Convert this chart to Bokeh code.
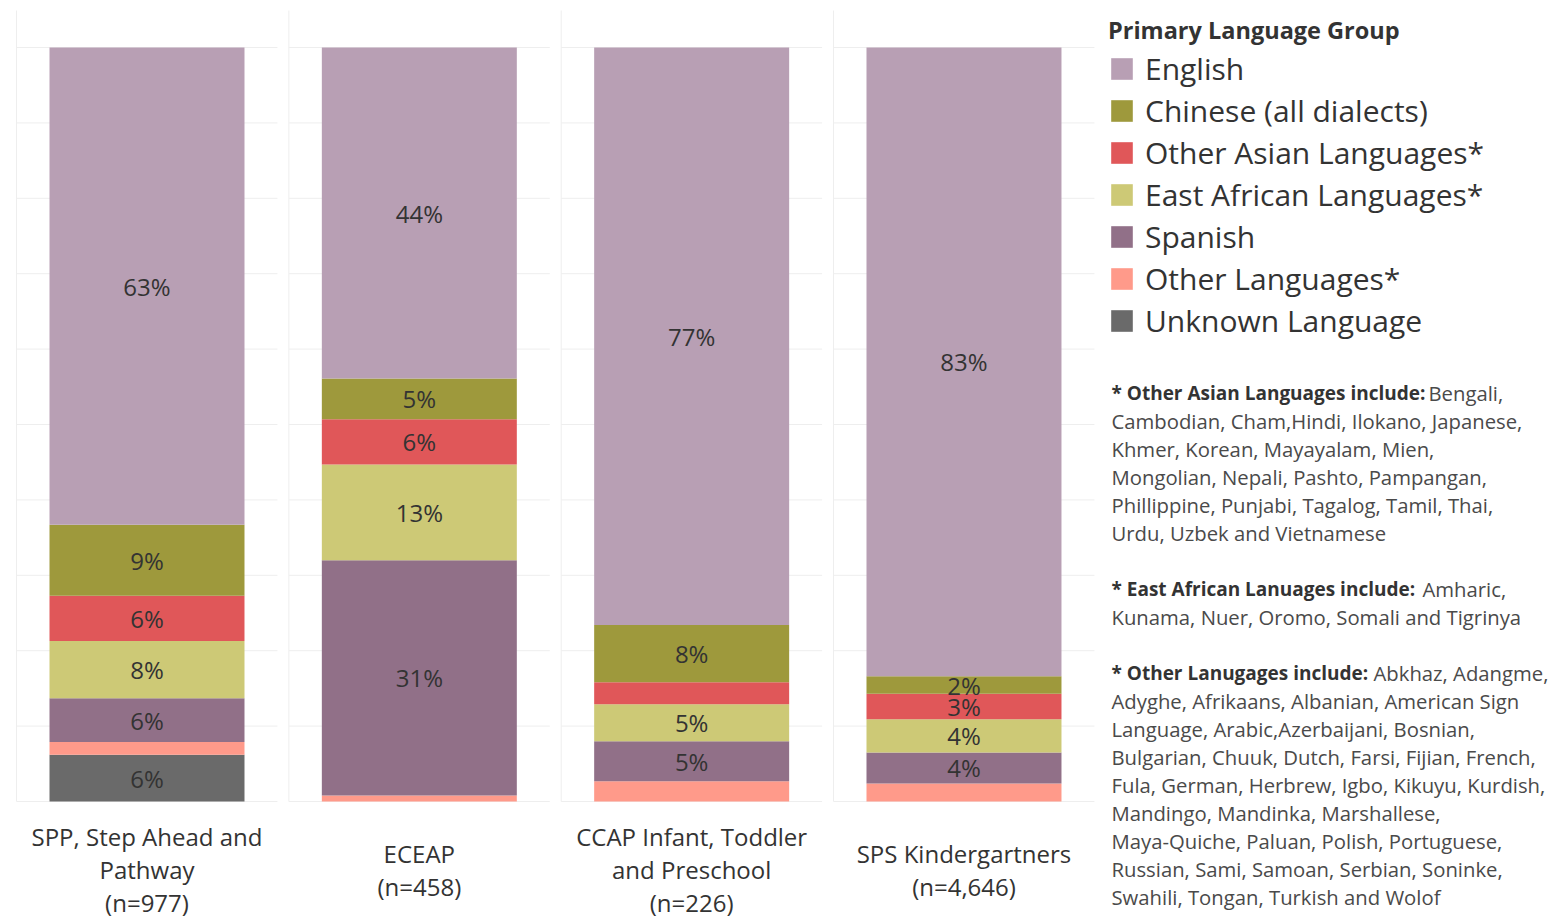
from bokeh.plotting import figure
from bokeh.models import ColumnDataSource, Range1d, Legend, LegendItem, Label
from bokeh.core.properties import value
from bokeh.embed import file_html
from bokeh.resources import INLINE

# ---------------- data ----------------
programs = [
    "SPP, Step Ahead and\nPathway\n(n=977)",
    "ECEAP\n(n=458)",
    "CCAP Infant, Toddler\nand Preschool\n(n=226)",
    "SPS Kindergartners\n(n=4,646)",
]
# legend order (top of legend -> bottom)
languages = [
    "English",
    "Chinese (all dialects)",
    "Other Asian Languages*",
    "East African Languages*",
    "Spanish",
    "Other Languages*",
    "Unknown Language",
]
colors = ["#b89fb4", "#9e993c", "#e05759", "#cdc976", "#917088", "#ff9a8a", "#6a6a6a"]

english = [63.3, 43.9, 76.6, 83.4]
chinese = [9.4, 5.4, 7.6, 2.3]
other_asian = [6.0, 6.0, 2.9, 3.4]
east_african = [7.6, 12.7, 4.9, 4.4]
spanish = [5.8, 31.2, 5.3, 4.1]
other_languages = [1.7, 0.8, 2.7, 2.4]
unknown = [6.2, 0.0, 0.0, 0.0]

# which segments carry a percentage label in the original
show_english = [True, True, True, True]
show_chinese = [True, True, True, True]
show_other_asian = [True, True, False, True]
show_east_african = [True, True, True, True]
show_spanish = [True, True, True, True]
show_other_languages = [False, False, False, False]
show_unknown = [True, False, False, False]

grid_levels = list(range(0, 101, 10))

notes = [
    ("* Other Asian Languages include:", [
        "Bengali,",
        "Cambodian, Cham,Hindi,  Ilokano, Japanese,",
        "Khmer, Korean, Mayayalam,  Mien,",
        "Mongolian, Nepali, Pashto, Pampangan,",
        "Phillippine, Punjabi, Tagalog, Tamil, Thai,",
        "Urdu, Uzbek and Vietnamese",
    ]),
    ("* East African Lanuages include:", [
        "Amharic,",
        "Kunama, Nuer, Oromo, Somali  and Tigrinya",
    ]),
    ("* Other Lanugages include:", [
        "Abkhaz, Adangme,",
        "Adyghe, Afrikaans, Albanian, American Sign",
        "Language, Arabic,Azerbaijani, Bosnian,",
        "Bulgarian, Chuuk, Dutch, Farsi, Fijian, French,",
        "Fula, German, Herbrew, Igbo, Kikuyu, Kurdish,",
        "Mandingo, Mandinka, Marshallese,",
        "Maya-Quiche, Paluan, Polish, Portuguese,",
        "Russian, Sami, Samoan, Serbian, Soninke,",
        "Swahili, Tongan, Turkish and Wolof",
    ]),
]

# ---------------- layout constants ----------------
FONT = "Open Sans"
TXT = "#333333"
W, H = 1552, 920
PPX = 272.33          # pixels per panel
PANE0_CENTER = 146.5  # canvas x of first panel centre
PPY = 7.54            # pixels per percentage point
ZERO_Y = 801          # canvas y of the 0 % line
HALF_PANE = 0.479
BAR_W = 0.716
PANE_TOP = 10

X0 = (0 - PANE0_CENTER) / PPX
X1 = X0 + W / PPX
Y1 = ZERO_Y / PPY
Y0 = Y1 - H / PPY


def xd(px):
    return (px - PANE0_CENTER) / PPX


def yd(py):
    return (ZERO_Y - py) / PPY


stack_keys = ["unknown", "other_languages", "spanish", "east_african",
              "other_asian", "chinese", "english"]
stack_vals = [unknown, other_languages, spanish, east_african, other_asian, chinese, english]
stack_show = [show_unknown, show_other_languages, show_spanish, show_east_african,
              show_other_asian, show_chinese, show_english]
stack_colors = list(reversed(colors))

xs = list(range(len(programs)))
data = {"x": xs}
for k, v in zip(stack_keys, stack_vals):
    data[k] = v
src = ColumnDataSource(data)

p = figure(width=W, height=H, x_range=Range1d(X0, X1), y_range=Range1d(Y0, Y1),
           output_backend="svg", toolbar_location=None,
           x_axis_location=None, y_axis_location=None,
           min_border=0)
p.xgrid.visible = False
p.ygrid.visible = False
p.outline_line_color = None
p.background_fill_color = "white"

# pane grid lines
gx0, gx1, gy = [], [], []
for i in xs:
    for g in grid_levels:
        gx0.append(i - HALF_PANE)
        gx1.append(i + HALF_PANE)
        gy.append(g)
p.segment(x0=gx0, y0=gy, x1=gx1, y1=gy, line_color="#eeeeee", line_width=1)
p.segment(x0=[i - HALF_PANE for i in xs], y0=[0] * len(xs),
          x1=[i - HALF_PANE for i in xs], y1=[yd(PANE_TOP)] * len(xs),
          line_color="#eeeeee", line_width=1)

renderers = p.vbar_stack(stack_keys, x="x", width=BAR_W, color=stack_colors,
                         line_color=None, source=src)

# percentage labels
lx, ly, lt = [], [], []
for j, i in enumerate(xs):
    base = 0.0
    for vals, shows in zip(stack_vals, stack_show):
        v = vals[j]
        if shows[j] and v > 0:
            lx.append(i)
            ly.append(base + v / 2)
            lt.append(f"{round(v)}%")
        base += v
p.text(x=lx, y=ly, text=lt, text_align="center", text_baseline="middle",
       text_font=value(FONT), text_font_size="24px", text_color=TXT)

# category labels
for i, name in zip(xs, programs):
    p.add_layout(Label(x=i, y=yd(869), text=name, text_align="center",
                       text_baseline="middle", text_font=FONT, text_font_size="24px",
                       text_line_height=1.0, text_color=TXT))

# legend (placed inside the full-canvas frame; tuple = bottom-left in px)
rmap = dict(zip(stack_keys, renderers))
legend_keys = list(reversed(stack_keys))
items = [LegendItem(label=lab, renderers=[rmap[k]]) for lab, k in zip(languages, legend_keys)]
legend = Legend(items=items, location=(1108, 579), title="Primary Language Group",
                title_text_font=FONT, title_text_font_size="23.5px", title_text_font_style="bold",
                title_text_color=TXT, title_standoff=2,
                label_text_font=FONT, label_text_font_size="30px", label_text_color=TXT,
                glyph_width=27, glyph_height=27, label_standoff=10,
                label_height=41, spacing=1, padding=6, margin=0,
                border_line_color=None, background_fill_alpha=0)
p.add_layout(legend)

# notes
para_y = [392, 588, 672]
line_step = 28
first_x = [1428, 1422, 1373]
for (bold, lines), y0, fx in zip(notes, para_y, first_x):
    p.add_layout(Label(x=xd(1111), y=yd(y0), text=bold, text_align="left",
                       text_baseline="middle", text_font=FONT, text_font_size="19px",
                       text_font_style="bold", text_color="#333333"))
    for k, ln in enumerate(lines):
        x = fx if k == 0 else 1111
        p.add_layout(Label(x=xd(x), y=yd(y0 + k * line_step), text=ln, text_align="left",
                           text_baseline="middle", text_font=FONT, text_font_size="20.3px",
                           text_color="#4a4a4a"))

open("out.html", "w").write(file_html(p, INLINE))
